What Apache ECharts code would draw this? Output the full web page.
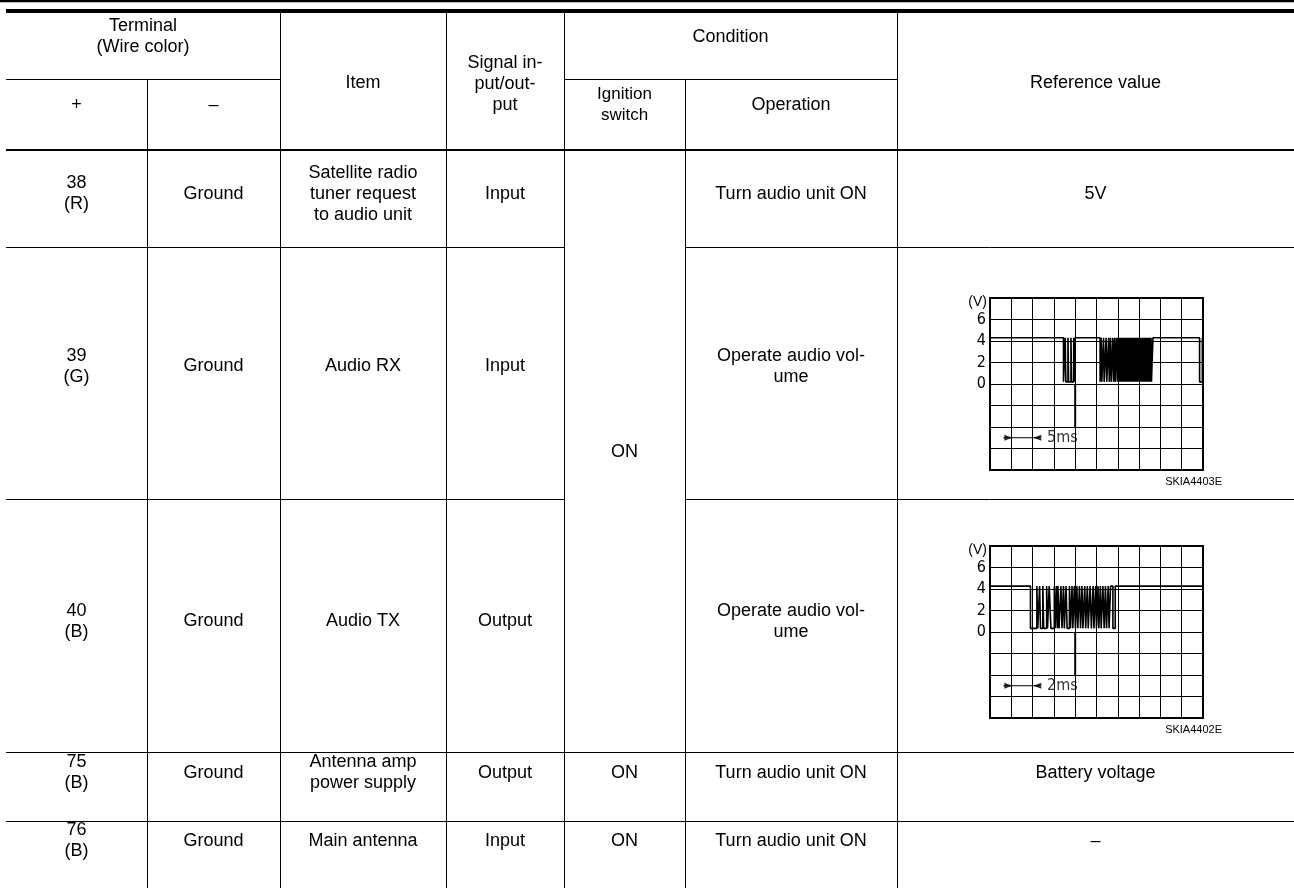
<!DOCTYPE html>
<html><head><meta charset="utf-8">
<script src="https://cdn.jsdelivr.net/npm/echarts@6/dist/echarts.min.js"></script>
<style>html,body{margin:0;padding:0;background:#fff}#c{width:1294px;height:888px}</style>
</head><body><div id="c"></div>
<script>
// ---------- table content ----------
const headerTop = ['Terminal\n(Wire color)', 'Item', 'Signal in-\nput/out-\nput', 'Condition', 'Reference value'];
const headerSub = ['+', '–', 'Ignition\nswitch', 'Operation'];
const terminalPlus = ['38\n(R)', '39\n(G)', '40\n(B)', '75\n(B)', '76\n(B)'];
const terminalMinus = ['Ground', 'Ground', 'Ground', 'Ground', 'Ground'];
const items = ['Satellite radio\ntuner request\nto audio unit', 'Audio RX', 'Audio TX', 'Antenna amp\npower supply', 'Main antenna'];
const signals = ['Input', 'Input', 'Output', 'Output', 'Input'];
const ignition = ['ON', 'ON', 'ON'];            // first cell spans rows 38-40
const operations = ['Turn audio unit ON', 'Operate audio vol-\nume', 'Operate audio vol-\nume', 'Turn audio unit ON', 'Turn audio unit ON'];
const refValues = ['5V', '', '', 'Battery voltage', '–'];

// ---------- oscilloscope content ----------
const scopeVoltTicks = [0, 2, 4, 6];
const scopeUnit = '(V)';
const scopeTimeDiv = ['5ms', '2ms'];
const scopeCodes = ['SKIA4403E', 'SKIA4402E'];
// [time (divisions), volts]
const waveRX = [
 [0,4.3],[3.45,0.2],[3.53,4.3],[3.56,0.2],[3.66,4.3],[3.69,0.2],[3.80,4.3],[3.83,0.2],[3.93,4.3],[3.96,0.2],[4.00,4.3],
 [5.17,0.2],[5.22,4.3],[5.25,0.2],[5.33,4.3],[5.36,0.2],[5.45,4.3],[5.48,0.2],[5.57,4.3],[5.60,0.2],[5.66,4.3],[5.69,0.2],
 [5.77,4.3],[5.80,0.2],[5.86,4.3],[5.88,0.2],[5.95,4.3],[5.98,0.2],[6.03,4.3],[6.05,0.2],[6.10,4.3],[6.12,0.2],[6.17,4.3],
 [6.19,0.2],[6.23,4.3],[6.25,0.2],[6.30,4.3],[6.31,0.2],[6.36,4.3],[6.38,0.2],[6.42,4.3],[6.44,0.2],[6.48,4.3],[6.50,0.2],
 [6.55,4.3],[6.56,0.2],[6.60,4.3],[6.62,0.2],[6.66,4.3],[6.68,0.2],[6.71,4.3],[6.73,0.2],[6.77,4.3],[6.78,0.2],[6.82,4.3],
 [6.84,0.2],[6.87,4.3],[6.89,0.2],[6.93,4.3],[6.94,0.2],[6.98,4.3],[7.00,0.2],[7.03,4.3],[7.05,0.2],[7.08,4.3],[7.10,0.2],
 [7.14,4.3],[7.15,0.2],[7.19,4.3],[7.21,0.2],[7.24,4.3],[7.26,0.2],[7.30,4.3],[7.31,0.2],[7.35,4.3],[7.37,0.2],[7.40,4.3],
 [7.42,0.2],[7.46,4.3],[7.47,0.2],[7.51,4.3],[7.53,0.2],[7.56,4.3],[7.58,0.2],[7.65,4.3],
 [9.84,0.2],[9.97,4.3],[10,4.3]
];
const waveTX = [
 [0,4.27],[1.90,0.34],[2.20,4.27],[2.24,0.34],[2.33,4.27],[2.37,0.34],[2.48,4.27],[2.52,0.34],[2.66,4.27],[2.70,0.34],
 [2.78,4.27],[2.86,0.34],[3.02,4.27],[3.06,0.34],[3.12,4.27],[3.16,0.34],[3.19,4.27],[3.24,0.34],[3.33,4.27],[3.38,0.34],
 [3.45,4.27],[3.49,0.34],[3.57,4.27],[3.62,0.34],[3.73,4.27],[3.78,0.34],[3.85,4.27],[3.89,0.34],[3.96,4.27],[4.01,0.34],
 [4.08,4.27],[4.12,0.34],[4.20,4.27],[4.25,0.34],[4.32,4.27],[4.36,0.34],[4.45,4.27],[4.49,0.34],[4.57,4.27],[4.61,0.34],
 [4.70,4.27],[4.76,0.34],[4.84,4.27],[4.88,0.34],[4.96,4.27],[5.00,0.34],[5.07,4.27],[5.11,0.34],[5.18,4.27],[5.22,0.34],
 [5.30,4.27],[5.36,0.34],[5.42,4.27],[5.47,0.34],[5.55,4.27],[5.59,0.34],[5.66,4.27],[5.77,0.34],[5.88,4.27],[10,4.27]
];
// time-division marker: [start, end] of bracket line, arrow heads, label start (divisions / volts)
const markerLine = [[0.63,-5],[2.35,-5]];
const markerHeads = [[0.86,-5,-90],[2.22,-5,90]];
const markerLabelAt = [2.68,-5];
// darker trace segment on the 4th division line
const centerStroke = [[4,0],[4,-4]];

// ---------- layout ----------
const colX = [6, 147, 280, 446, 564, 685, 897, 1294];
const yH1 = 79, yH2 = 150;
const rowLines = [247, 499, 752, 821];
const rowTextY = [194, 366.5, 621.5, 773, 841];
const ignitionY = [452, 773, 841];
const cx = i => (colX[i] + colX[i + 1]) / 2;
const FONT = '"Liberation Sans", Arial, Helvetica, sans-serif';
const NARROW = '"Liberation Sans Narrow", "DejaVu Sans Condensed", Arial, sans-serif';

const g = [];
function hline(y, x1, x2, w) { g.push({type:'line', silent:true, shape:{x1, y1:y, x2, y2:y}, style:{stroke:'#000', lineWidth:w || 1}}); }
function vline(x, y1, y2, w) { g.push({type:'line', silent:true, shape:{x1:x, y1, x2:x, y2}, style:{stroke:'#000', lineWidth:w || 1}}); }
function txt(s, x, y, o) {
  o = o || {};
  g.push({type:'text', silent:true, x, y, style:Object.assign({text:s, fill:'#000', fontSize:18, fontFamily:FONT,
    align:'center', verticalAlign:'middle', lineHeight:21}, o)});
}
// rules
hline(1, 0, 1294, 2.5);
hline(11, colX[0], 1294, 4);
hline(yH1 + 0.5, colX[0], colX[2]);
hline(yH1 + 0.5, colX[4], colX[6]);
hline(yH2, colX[0], 1294, 2);
rowLines.forEach((y, i) => {
  if (i < 2) { hline(y + 0.5, colX[0], colX[4]); hline(y + 0.5, colX[5], 1294); }
  else hline(y + 0.5, colX[0], 1294);
});
[2, 3, 4, 6].forEach(i => vline(colX[i] + 0.5, 13, 890));
[1, 5].forEach(i => vline(colX[i] + 0.5, yH1, 890));

// header text
txt(headerTop[0], (colX[0] + colX[2]) / 2, 37);
txt(headerTop[1], cx(2), 83);
txt(headerTop[2], cx(3), 84);
txt(headerTop[3], (colX[4] + colX[6]) / 2, 37);
txt(headerTop[4], cx(6), 83);
txt(headerSub[0], cx(0), 105);
txt(headerSub[1], cx(1), 105);
txt(headerSub[2], cx(4), 105, {fontSize:17});
txt(headerSub[3], cx(5), 105);
// body text
for (let r = 0; r < 5; r++) {
  const y = rowTextY[r];
  txt(terminalPlus[r], cx(0), y);
  txt(terminalMinus[r], cx(1), y);
  txt(items[r], cx(2), y);
  txt(signals[r], cx(3), y);
  txt(operations[r], cx(5), y);
  if (refValues[r]) txt(refValues[r], cx(6), y);
}
ignition.forEach((s, i) => txt(s, cx(4), ignitionY[i]));

// ---------- scopes ----------
const scopeTops = [298, 546];
const grids = [], xAxes = [], yAxes = [], series = [];
const waves = [waveRX, waveTX];
scopeTops.forEach((top, k) => {
  grids.push({left:990, width:213, top, height:172, show:true, borderColor:'#000', borderWidth:2, backgroundColor:'transparent'});
  xAxes.push({type:'value', gridIndex:k, min:0, max:10, interval:1,
    axisLine:{show:false}, axisTick:{show:false}, axisLabel:{show:false},
    splitLine:{show:true, lineStyle:{color:'#000', width:1}}});
  yAxes.push({type:'value', gridIndex:k, min:-8, max:8, interval:2,
    name:scopeUnit, nameLocation:'end', nameGap:-4,
    nameTextStyle:{fontFamily:FONT, fontSize:14, color:'#000', align:'right', verticalAlign:'middle', padding:[0,3,0,0]},
    axisLine:{show:false}, axisTick:{show:false},
    axisLabel:{show:true, margin:4, color:'#000', fontFamily:NARROW, fontSize:16,
      formatter:v => scopeVoltTicks.indexOf(v) >= 0 ? String(v) : ''},
    splitLine:{show:true, lineStyle:{color:'#000', width:1}}});
  series.push({type:'line', xAxisIndex:k, yAxisIndex:k, step:'end', data:waves[k], showSymbol:false,
    lineStyle:{color:'#000', width:1.6}, silent:true, animation:false});
  series.push({type:'line', xAxisIndex:k, yAxisIndex:k, data:centerStroke, showSymbol:false,
    lineStyle:{color:'#000', width:2}, silent:true, animation:false});
  series.push({type:'line', xAxisIndex:k, yAxisIndex:k, data:markerLine, showSymbol:false,
    lineStyle:{color:'#000', width:1}, silent:true, animation:false});
  series.push({type:'scatter', xAxisIndex:k, yAxisIndex:k, silent:true, animation:false,
    data:markerHeads.map(h => ({value:[h[0], h[1]], symbolRotate:h[2]})),
    symbol:'triangle', symbolSize:[6, 8], itemStyle:{color:'#000'}});
  series.push({type:'scatter', xAxisIndex:k, yAxisIndex:k, silent:true, animation:false,
    data:[markerLabelAt], symbolSize:0,
    label:{show:true, position:'right', distance:0, formatter:scopeTimeDiv[k], color:'#000',
      fontFamily:NARROW, fontSize:16}});
  txt(scopeCodes[k], 1222, top + 184, {fontSize:11, align:'right', lineHeight:13});
});

const chart = echarts.init(document.getElementById('c'), null, {renderer:'canvas'});
chart.setOption({
  animation:false,
  backgroundColor:'#fff',
  grid:grids, xAxis:xAxes, yAxis:yAxes, series,
  graphic:{elements:g}
});
</script></body></html>
